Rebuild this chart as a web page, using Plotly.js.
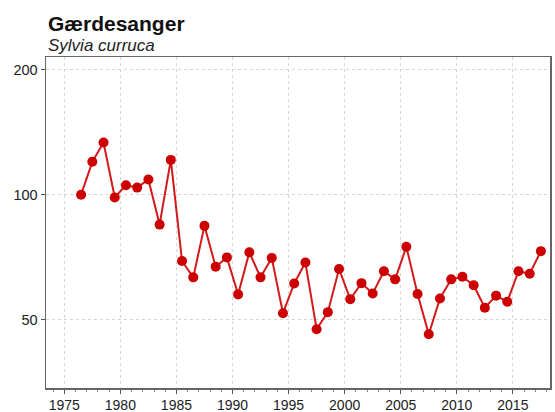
<!DOCTYPE html>
<html>
<head>
<meta charset="utf-8">
<script src="https://cdn.plot.ly/plotly-3.0.1.min.js"></script>
<style>html,body{margin:0;padding:0;background:#fff;}#chart{width:555px;height:412px;}</style>
</head>
<body>
<div id="chart"></div>
<script>
const titleText = "Gærdesanger";
const subtitleText = "Sylvia curruca";
const years = [1976,1977,1978,1979,1980,1981,1982,1983,1984,1985,1986,1987,1988,1989,1990,1991,1992,1993,1994,1995,1996,1997,1998,1999,2000,2001,2002,2003,2004,2005,2006,2007,2008,2009,2010,2011,2012,2013,2014,2015,2016,2017];
const index = [100,120,133.6,98.5,105.4,104,108.8,84.7,121.3,69.2,63.2,84.1,67.0,70.6,57.5,72.6,63.2,70.4,51.8,61.1,68.6,47.4,52.1,66.2,56.0,61.2,57.8,65.4,62.5,74.9,57.6,46.1,56.2,62.5,63.4,60.5,53.4,57.1,55.2,65.4,64.5,73.1];
const yTickVals = [50,100,200];
const yTickText = ["50","100","200"];
const xTickVals = [1975,1980,1985,1990,1995,2000,2005,2010,2015];

// points are drawn at mid-year
const xMid = years.map(y => y + 0.5);

const trace = {
  x: xMid, y: index, type: 'scatter', mode: 'lines+markers',
  line: {color: '#d21a1a', width: 2},
  marker: {color: '#cc0000', size: 10},
  hoverinfo: 'x+y'
};

const layout = {
  width: 555, height: 412,
  margin: {l: 46, r: 5, t: 57, b: 24},
  paper_bgcolor: '#fff', plot_bgcolor: '#fff',
  font: {family: 'Liberation Sans, Arial, sans-serif', color: '#222', size: 14},
  showlegend: false,
  xaxis: {
    range: [1973.37, 2018.31],
    tickvals: xTickVals, ticktext: xTickVals.map(String),
    ticks: 'outside', ticklen: 4, tickcolor: '#555', tickwidth: 1,
    minor: {ticks: 'outside', dtick: 1, tick0: 1975, ticklen: 2.5, tickcolor: '#888', showgrid: false},
    showgrid: true, gridcolor: '#d6d6d6', griddash: 'dot', gridwidth: 1,
    showline: true, linecolor: '#666', linewidth: 1.5, mirror: true,
    zeroline: false, tickfont: {size: 14, color: '#222'}
  },
  yaxis: {
    type: 'log',
    range: [Math.log10(34.2), Math.log10(214.7)],
    tickvals: yTickVals, ticktext: yTickText,
    ticks: 'outside', ticklen: 4, tickcolor: '#555',
    showgrid: true, gridcolor: '#d6d6d6', griddash: 'dot', gridwidth: 1,
    showline: true, linecolor: '#666', linewidth: 1.5, mirror: true,
    zeroline: false, tickfont: {size: 14.5, color: '#222'}
  },
  annotations: [
    {text: '<b>' + titleText + '</b>', xref: 'paper', yref: 'paper', x: 0, y: 1,
     xanchor: 'left', yanchor: 'bottom', yshift: 20, showarrow: false,
     font: {size: 21, color: '#111', family: 'Liberation Sans, Arial, sans-serif'}},
    {text: '<i>' + subtitleText + '</i>', xref: 'paper', yref: 'paper', x: 0, y: 1,
     xanchor: 'left', yanchor: 'bottom', yshift: 0, showarrow: false,
     font: {size: 17, color: '#222', family: 'Liberation Sans, Arial, sans-serif'}}
  ]
};

Plotly.newPlot('chart', [trace], layout, {displayModeBar: false, staticPlot: true});
</script>
</body>
</html>
